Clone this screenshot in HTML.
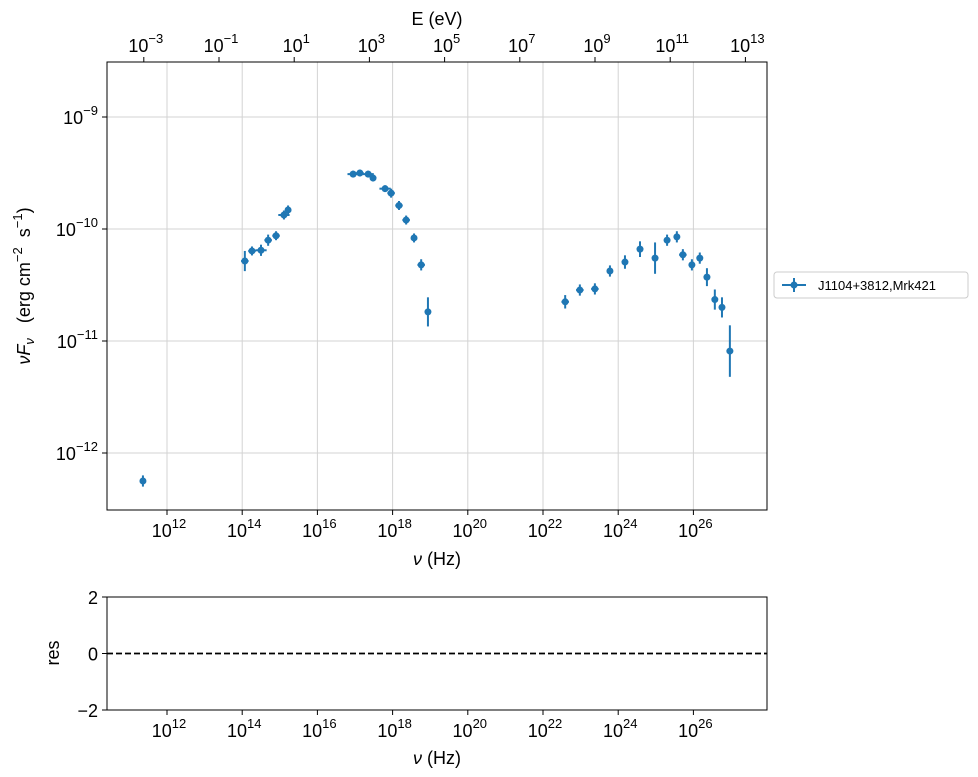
<!DOCTYPE html>
<html><head><meta charset="utf-8"><style>
body{margin:0;background:#fff;}
svg{display:block;font-family:"Liberation Sans","DejaVu Sans",sans-serif;}
</style></head><body>
<svg id="chart" width="978" height="777"></svg>
<script>
const logNu=[11.36,14.07,14.26,14.50,14.69,14.90,15.11,15.22,16.95,17.13,17.35,17.48,17.80,17.96,18.17,18.36,18.57,18.76,18.94,22.59,22.98,23.38,23.78,24.18,24.58,24.98,25.30,25.56,25.72,25.96,26.17,26.36,26.57,26.76,26.97];
const logFlux=[-12.25,-10.286,-10.196,-10.19,-10.10,-10.06,-9.875,-9.83,-9.51,-9.50,-9.51,-9.545,-9.64,-9.68,-9.79,-9.92,-10.08,-10.32,-10.74,-10.65,-10.545,-10.535,-10.375,-10.295,-10.18,-10.26,-10.10,-10.07,-10.23,-10.32,-10.26,-10.43,-10.63,-10.70,-11.09];
const fluxErr=[0.05,0.09,0.04,0.05,0.05,0.04,0.04,0.04,0.03,0.03,0.03,0.03,0.03,0.04,0.04,0.04,0.04,0.05,0.13,0.06,0.05,0.05,0.05,0.06,0.07,0.14,0.05,0.05,0.05,0.05,0.05,0.08,0.09,0.09,0.23];
const nuErr=[0,0.1,0.1,0.15,0.1,0.1,0.15,0.05,0.15,0.1,0.15,0.05,0.15,0.1,0.1,0.1,0.05,0.1,0.05,0.1,0.1,0.1,0.05,0.05,0.05,0.05,0.05,0.05,0.1,0.05,0.05,0.05,0.05,0.05,0.05];
const xTicks=[12,14,16,18,20,22,24,26];
const yTicks=[-9,-10,-11,-12];
const eTicks=[-3,-1,1,3,5,7,9,11,13];
const resTicks=[2,0,-2];

const svg=document.getElementById('chart');
const NS='http://www.w3.org/2000/svg';
const L=107,R=767,T=62,B=510;
const x=v=>167+(v-12)*37.6;
const y=v=>117-(v+9)*112;
const RT=597,RB=710;
const ry=v=>653.5-v*28.25;
function el(t,a,txt){const e=document.createElementNS(NS,t);for(const k in a)e.setAttribute(k,a[k]);if(txt!==undefined)e.innerHTML=txt;svg.appendChild(e);return e;}
function pw(v){return '10<tspan dy="-9" font-size="13">'+(v<0?'−'+(-v):v)+'</tspan>';}

xTicks.forEach(v=>{const g=el('line',{x1:x(v),x2:x(v),y1:T,y2:B,stroke:'#d3d3d3','stroke-width':1});

});
yTicks.forEach(v=>{const g=el('line',{x1:L,x2:R,y1:y(v),y2:y(v),stroke:'#d3d3d3','stroke-width':1});

});

let f=el('rect',{x:L,y:T,width:R-L,height:B-T,fill:'none',stroke:'#000','stroke-width':1});



function xTickLabels(yb,name){
xTicks.forEach(v=>{el('line',{x1:x(v),x2:x(v),y1:yb,y2:yb+5,stroke:'#000'});
const t=el('text',{x:x(v)+2,y:yb+27,'font-size':18,'text-anchor':'middle'},pw(v));

});
}
xTickLabels(B,'x-tick-label');
yTicks.forEach(v=>{el('line',{x1:L-5,x2:L,y1:y(v),y2:y(v),stroke:'#000'});
const t=el('text',{x:L-9,y:y(v)+7,'font-size':18,'text-anchor':'end'},pw(v));

});
eTicks.forEach(v=>{const px=x(v+14.383);el('line',{x1:px,x2:px,y1:T-5,y2:T,stroke:'#000'});
const t=el('text',{x:px+2,y:T-10,'font-size':18,'text-anchor':'middle'},pw(v));

});

let t=el('text',{x:437,y:25,'font-size':18,'text-anchor':'middle'},'E (eV)');


t=el('text',{x:437,y:565,'font-size':18,'text-anchor':'middle'},'<tspan font-style="italic">ν</tspan>  (Hz)');


t=el('text',{x:0,y:0,'font-size':18,'text-anchor':'middle',transform:'translate(30,286) rotate(-90)'},'<tspan font-style="italic">νF<tspan dy="4" font-size="13">ν</tspan></tspan><tspan dy="-4" xml:space="preserve">   (erg cm</tspan><tspan dy="-8" font-size="13">−2</tspan><tspan dy="8" xml:space="preserve">  s</tspan><tspan dy="-8" font-size="13">−1</tspan><tspan dy="8">)</tspan>');



const C='#1f77b4';
logNu.forEach((v,i)=>{
const cx=x(v),cy=y(logFlux[i]);
let l=el('line',{x1:cx,x2:cx,y1:y(logFlux[i]+fluxErr[i]),y2:y(logFlux[i]-fluxErr[i]),stroke:C,'stroke-width':2});


if(nuErr[i]>0){l=el('line',{x1:x(v-nuErr[i]),x2:x(v+nuErr[i]),y1:cy,y2:cy,stroke:C,'stroke-width':2});

}
const p=el('circle',{cx:cx,cy:cy,r:3.5,fill:C});


});

let lg=el('rect',{x:774,y:272,width:194,height:26,rx:3,fill:'#fff',stroke:'#ccc'});


el('line',{x1:782,x2:806,y1:285,y2:285,stroke:C,'stroke-width':2});
el('line',{x1:794,x2:794,y1:278,y2:292,stroke:C,'stroke-width':2});
el('circle',{cx:794,cy:285,r:3.5,fill:C});
t=el('text',{x:818,y:290,'font-size':13},'J1104+3812,Mrk421');



f=el('rect',{x:L,y:RT,width:R-L,height:RB-RT,fill:'none',stroke:'#000'});


let d=el('line',{x1:L,x2:R,y1:ry(0),y2:ry(0),stroke:'#000','stroke-width':1.8,'stroke-dasharray':'6,3'});


xTickLabels(RB,'residual-x-tick-label');
resTicks.forEach(v=>{el('line',{x1:L-5,x2:L,y1:ry(v),y2:ry(v),stroke:'#000'});
const tt=el('text',{x:L-9,y:ry(v)+7,'font-size':18,'text-anchor':'end'},v<0?'−'+(-v):''+v);

});
t=el('text',{x:437,y:764,'font-size':18,'text-anchor':'middle'},'<tspan font-style="italic">ν</tspan>  (Hz)');


t=el('text',{x:0,y:0,'font-size':18,'text-anchor':'middle',transform:'translate(59,653) rotate(-90)'},'res');


</script>
</body></html>
